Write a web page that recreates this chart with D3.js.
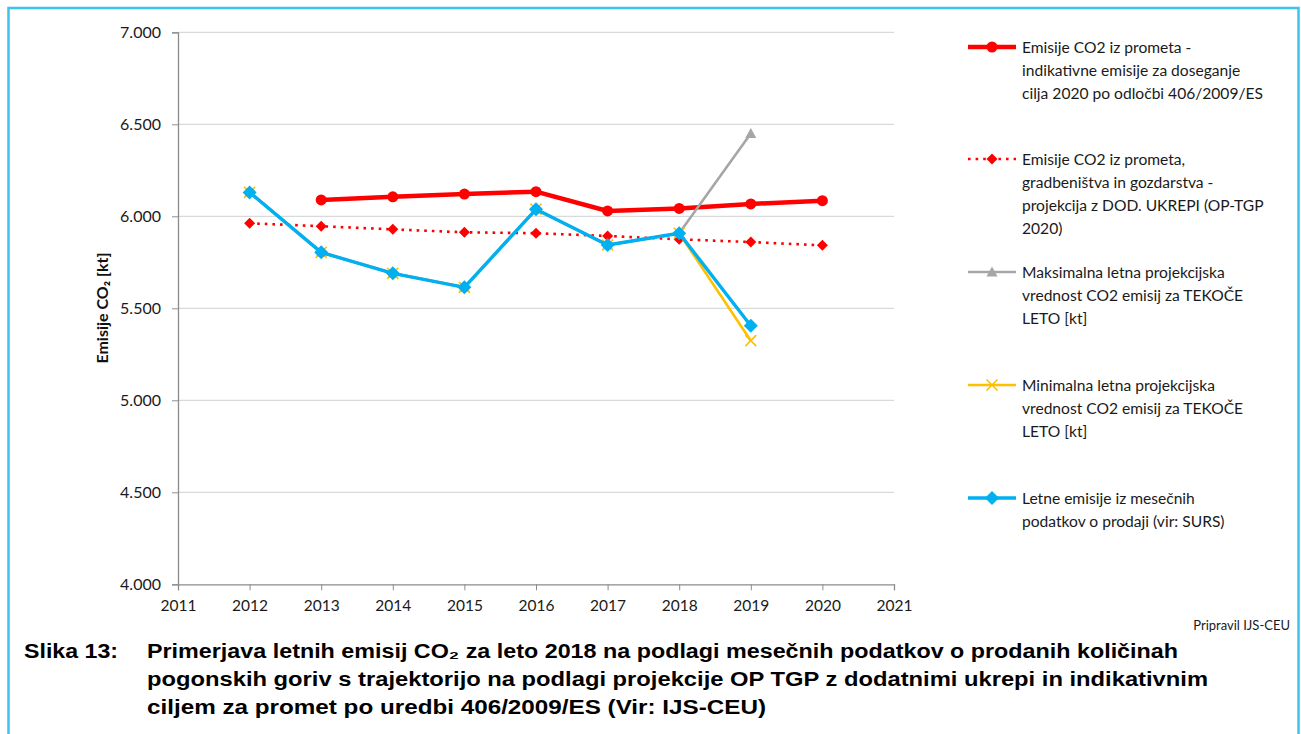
<!DOCTYPE html>
<html>
<head>
<meta charset="utf-8">
<script src="https://cdn.jsdelivr.net/npm/d3@7"></script>
<style>
  html, body { margin: 0; padding: 0; background: #fff; }
  svg { display: block; }
</style>
</head>
<body>
<svg id="chart" width="1301" height="734"></svg>
<script>
// Years on the x axis and the five emission series (kt CO2)
const years = [2012, 2013, 2014, 2015, 2016, 2017, 2018, 2019, 2020];
const indicativeTarget = [null, 6089, 6106, 6121, 6134, 6029, 6043, 6067, 6085];
const projectionWAM = [5962, 5946, 5929, 5913, 5908, 5893, 5875, 5860, 5842];
const maxProjection = [6130, 5804, 5690, 5614, 6038, 5844, 5908, 6450, null];
const minProjection = [6130, 5804, 5690, 5614, 6038, 5844, 5908, 5324, null];
const monthlySales = [6130, 5804, 5690, 5614, 6038, 5844, 5908, 5405, null];

const yTicks = [4000, 4500, 5000, 5500, 6000, 6500, 7000];
const xTicks = [2011, 2012, 2013, 2014, 2015, 2016, 2017, 2018, 2019, 2020, 2021];

const legendLabels = [
  ["Emisije CO2 iz prometa -", "indikativne emisije za doseganje", "cilja 2020 po odločbi 406/2009/ES"],
  ["Emisije CO2 iz prometa,", "gradbeništva in gozdarstva -", "projekcija z DOD. UKREPI (OP-TGP", "2020)"],
  ["Maksimalna letna projekcijska", "vrednost CO2 emisij za TEKOČE", "LETO [kt]"],
  ["Minimalna letna projekcijska", "vrednost CO2 emisij za TEKOČE", "LETO [kt]"],
  ["Letne emisije iz mesečnih", "podatkov o prodaji (vir: SURS)"]
];

const captionLabel = "Slika 13:";
const captionLines = [
  "Primerjava letnih emisij CO₂ za leto 2018 na podlagi mesečnih podatkov o prodanih količinah",
  "pogonskih goriv s trajektorijo na podlagi projekcije OP TGP z dodatnimi ukrepi in indikativnim",
  "ciljem za promet po uredbi 406/2009/ES (Vir: IJS-CEU)"
];
const creditText = "Pripravil IJS-CEU";

const svg = d3.select("#chart");
const tickFont = "Lato, 'Open Sans', sans-serif";

// outer frame
svg.append("rect")
  .attr("x", 8.5).attr("y", 8).attr("width", 1290).attr("height", 740)
  .attr("fill", "none").attr("stroke", "#3ec3ee").attr("stroke-width", 2.5);

const plot = { left: 178, right: 894, top: 32.3, bottom: 584.3 };

const x = d3.scaleLinear().domain([2011, 2021]).range([plot.left, plot.right]);
const y = d3.scaleLinear().domain([4000, 7000]).range([plot.bottom, plot.top]);

// horizontal gridlines
svg.append("g")
  .selectAll("line")
  .data(yTicks.filter(d => d > 4000))
  .join("line")
  .attr("x1", plot.left).attr("x2", plot.right)
  .attr("y1", d => y(d)).attr("y2", d => y(d))
  .attr("stroke", "#d9d9d9").attr("stroke-width", 1.3);

// y axis, values shown in thousands with a decimal point
const yAxis = svg.append("g")
  .attr("transform", `translate(${plot.left},0)`)
  .call(d3.axisLeft(y).tickValues(yTicks).tickSize(6).tickPadding(11)
    .tickFormat(d => (d / 1000).toFixed(3)));
yAxis.selectAll("text")
  .attr("font-family", tickFont).attr("font-size", "16px").attr("fill", "#1a1a1a");
yAxis.select(".domain").attr("stroke", "#8c8c8c").attr("stroke-width", 1.3);
yAxis.selectAll(".tick line").attr("stroke", "#8c8c8c");

// x axis
const xAxis = svg.append("g")
  .attr("transform", `translate(0,${plot.bottom})`)
  .call(d3.axisBottom(x).tickValues(xTicks).tickSize(6).tickPadding(10).tickFormat(d3.format("d")));
xAxis.selectAll("text").attr("font-family", tickFont).attr("font-size", "15.5px").attr("fill", "#1a1a1a");
xAxis.select(".domain").attr("stroke", "#8c8c8c").attr("stroke-width", 1.3);
xAxis.selectAll(".tick line").attr("stroke", "#8c8c8c");

// y axis title
svg.append("text")
  .attr("transform", "translate(108,308) rotate(-90)")
  .attr("text-anchor", "middle")
  .attr("font-family", tickFont).attr("font-weight", "bold").attr("font-size", "16px")
  .attr("fill", "#111")
  .text("Emisije CO₂ [kt]");

const line = d3.line()
  .defined(d => d[1] !== null)
  .x(d => x(d[0])).y(d => y(d[1]));

const series = [
  { values: indicativeTarget, color: "#ff0000", width: 4.5, dash: null, marker: "circle", size: 5.5 },
  { values: projectionWAM, color: "#ff0000", width: 2.6, dash: "2.6,5", marker: "diamond", size: 5.5 },
  { values: maxProjection, color: "#a6a6a6", width: 2.6, dash: null, marker: "triangle", size: 5.5 },
  { values: minProjection, color: "#ffc000", width: 2.6, dash: null, marker: "cross", size: 5.5 },
  { values: monthlySales, color: "#00b0f0", width: 3.4, dash: null, marker: "diamond", size: 7 }
];

function drawMarker(g, type, cx, cy, s, color) {
  if (type === "circle") {
    g.append("circle").attr("cx", cx).attr("cy", cy).attr("r", s).attr("fill", color);
  } else if (type === "diamond") {
    g.append("path")
      .attr("d", `M${cx},${cy - s}L${cx + s},${cy}L${cx},${cy + s}L${cx - s},${cy}Z`)
      .attr("fill", color);
  } else if (type === "triangle") {
    g.append("path")
      .attr("d", `M${cx},${cy - s}L${cx + s},${cy + s * 0.8}L${cx - s},${cy + s * 0.8}Z`)
      .attr("fill", color);
  } else if (type === "cross") {
    g.append("path")
      .attr("d", `M${cx - s},${cy - s}L${cx + s},${cy + s}M${cx + s},${cy - s}L${cx - s},${cy + s}`)
      .attr("stroke", color).attr("stroke-width", 1.6).attr("fill", "none");
  }
}

series.forEach(s => {
  const pts = years.map((yr, i) => [yr, s.values[i]]);
  const g = svg.append("g");
  g.append("path")
    .datum(pts)
    .attr("d", line)
    .attr("fill", "none")
    .attr("stroke", s.color)
    .attr("stroke-width", s.width)
    .attr("stroke-linejoin", "round")
    .attr("stroke-linecap", s.dash ? "butt" : "round")
    .attr("stroke-dasharray", s.dash);
  pts.filter(p => p[1] !== null).forEach(p => drawMarker(g, s.marker, x(p[0]), y(p[1]), s.size, s.color));
});

// legend
const legendY = [47, 159, 272, 385, 498];
const legend = svg.append("g");
series.forEach((s, i) => {
  const ly = legendY[i];
  legend.append("line")
    .attr("x1", 968).attr("x2", 1016).attr("y1", ly).attr("y2", ly)
    .attr("stroke", s.color).attr("stroke-width", s.width)
    .attr("stroke-dasharray", s.dash);
  drawMarker(legend, s.marker, 992, ly, s.size, s.color);
  const t = legend.append("text")
    .attr("font-family", tickFont).attr("font-size", "15.6px").attr("fill", "#1a1a1a");
  legendLabels[i].forEach((l, j) => {
    t.append("tspan").attr("x", 1022).attr("y", ly + 5.5 + j * 23).text(l);
  });
});

// credit line
svg.append("text")
  .attr("x", 1290).attr("y", 630).attr("text-anchor", "end")
  .attr("font-family", tickFont).attr("font-size", "13px").attr("fill", "#1a1a1a")
  .text(creditText);

// caption
const capFont = "'Liberation Sans', Arial, sans-serif";
svg.append("text")
  .attr("x", 24).attr("y", 658)
  .attr("font-family", capFont).attr("font-weight", "bold").attr("font-size", "20px")
  .attr("textLength", 94).attr("lengthAdjust", "spacingAndGlyphs")
  .text(captionLabel);
const capWidths = [1031, 1061, 619];
captionLines.forEach((l, i) => {
  svg.append("text")
    .attr("x", 147).attr("y", 658 + i * 28)
    .attr("font-family", capFont).attr("font-weight", "bold").attr("font-size", "20px")
    .attr("textLength", capWidths[i]).attr("lengthAdjust", "spacingAndGlyphs")
    .text(l);
});
</script>
</body>
</html>
